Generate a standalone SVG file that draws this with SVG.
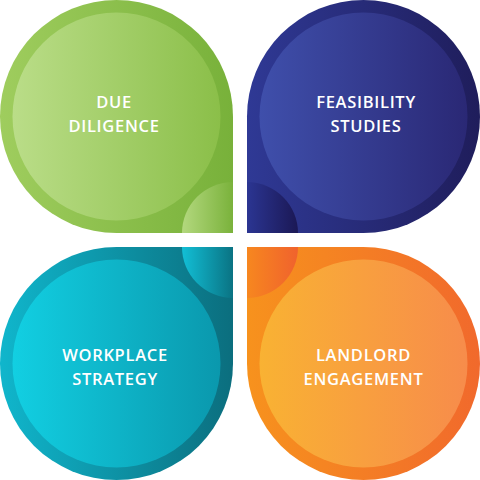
<svg xmlns="http://www.w3.org/2000/svg" width="480" height="480" viewBox="0 0 480 480">
<defs>
<linearGradient id="gO" x1="0" y1="0" x2="1" y2="0"><stop offset="0" stop-color="#9fcd5e"/><stop offset="1" stop-color="#78b13a"/></linearGradient>
<linearGradient id="gI" x1="0" y1="0" x2="1" y2="0"><stop offset="0" stop-color="#badd88"/><stop offset="1" stop-color="#8bbf49"/></linearGradient>
<linearGradient id="gC" x1="0" y1="0" x2="1" y2="0"><stop offset="0" stop-color="#b3d87e"/><stop offset="1" stop-color="#7ab23b"/></linearGradient>
<linearGradient id="bO" x1="0" y1="0" x2="1" y2="0"><stop offset="0" stop-color="#2f3995"/><stop offset="1" stop-color="#1f1d5b"/></linearGradient>
<linearGradient id="bI" x1="0" y1="0" x2="1" y2="0"><stop offset="0" stop-color="#3f4fab"/><stop offset="1" stop-color="#2a2875"/></linearGradient>
<linearGradient id="bC" x1="0" y1="0" x2="1" y2="0"><stop offset="0" stop-color="#2b3592"/><stop offset="1" stop-color="#1b1855"/></linearGradient>
<linearGradient id="tO" x1="0" y1="0" x2="1" y2="0"><stop offset="0" stop-color="#10b6cc"/><stop offset="1" stop-color="#0b6e7e"/></linearGradient>
<linearGradient id="tI" x1="0" y1="0" x2="1" y2="0"><stop offset="0" stop-color="#12cfe2"/><stop offset="1" stop-color="#0a98ad"/></linearGradient>
<linearGradient id="tC" x1="0" y1="0" x2="1" y2="0"><stop offset="0" stop-color="#12bfd6"/><stop offset="1" stop-color="#0a7383"/></linearGradient>
<linearGradient id="oO" x1="0" y1="0" x2="1" y2="0"><stop offset="0" stop-color="#f7921d"/><stop offset="1" stop-color="#f1692c"/></linearGradient>
<linearGradient id="oI" x1="0" y1="0" x2="1" y2="0"><stop offset="0" stop-color="#f9b233"/><stop offset="1" stop-color="#f78c4b"/></linearGradient>
<linearGradient id="oC" x1="0" y1="0" x2="1" y2="0"><stop offset="0" stop-color="#f7871f"/><stop offset="1" stop-color="#f0622d"/></linearGradient>
</defs>
<style>
.lbl{font-family:"Open Sans","Liberation Sans",sans-serif;font-weight:600;font-size:16.5px;fill:#ffffff;text-anchor:middle;letter-spacing:0.7px}
</style>
<g id="due-diligence">
<path d="M116.5 233 A116.5 116.5 0 1 1 233 116.5 L233 233 Z" fill="url(#gO)"/>
<path d="M233 182 A51 51 0 0 0 182 233 L233 233 Z" fill="url(#gC)"/>
<circle cx="116.5" cy="116.5" r="104" fill="url(#gI)"/>
<text class="lbl" x="114" y="108">DUE</text>
<text class="lbl" x="114" y="132">DILIGENCE</text>
</g>
<g id="feasibility-studies">
<path d="M247 116.5 A116.5 116.5 0 1 1 363.5 233 L247 233 Z" fill="url(#bO)"/>
<path d="M247 182 A51 51 0 0 1 298 233 L247 233 Z" fill="url(#bC)"/>
<circle cx="363.5" cy="116.5" r="104" fill="url(#bI)"/>
<text class="lbl" x="366" y="108">FEASIBILITY</text>
<text class="lbl" x="366" y="132">STUDIES</text>
</g>
<g id="workplace-strategy">
<path d="M233 363.5 A116.5 116.5 0 1 1 116.5 247 L233 247 Z" fill="url(#tO)"/>
<path d="M182 247 A51 51 0 0 0 233 298 L233 247 Z" fill="url(#tC)"/>
<circle cx="116.5" cy="363.5" r="104" fill="url(#tI)"/>
<text class="lbl" x="115" y="361">WORKPLACE</text>
<text class="lbl" x="115" y="385">STRATEGY</text>
</g>
<g id="landlord-engagement">
<path d="M363.5 247 A116.5 116.5 0 1 1 247 363.5 L247 247 Z" fill="url(#oO)"/>
<path d="M298 247 A51 51 0 0 1 247 298 L247 247 Z" fill="url(#oC)"/>
<circle cx="363.5" cy="363.5" r="104" fill="url(#oI)"/>
<text class="lbl" x="363.5" y="361">LANDLORD</text>
<text class="lbl" x="363.5" y="385">ENGAGEMENT</text>
</g>
<g id="connectors"/>
</svg>
